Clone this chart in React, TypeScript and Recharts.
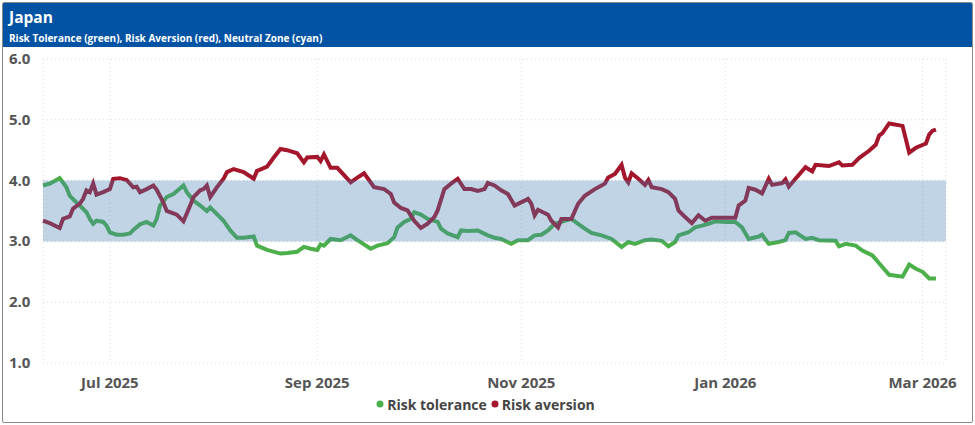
import {
  CartesianGrid,
  Legend,
  Line,
  LineChart,
  XAxis,
  YAxis,
} from "recharts";

// Risk tolerance (green)
const toleranceDates = [
  "2025-06-11", "2025-06-13", "2025-06-16", "2025-06-18", "2025-06-19", "2025-06-21", "2025-06-22",
  "2025-06-24", "2025-06-25", "2025-06-26", "2025-06-27", "2025-06-29", "2025-06-30", "2025-07-01",
  "2025-07-03", "2025-07-05", "2025-07-07", "2025-07-08", "2025-07-10", "2025-07-12", "2025-07-14",
  "2025-07-15", "2025-07-16", "2025-07-18", "2025-07-20", "2025-07-23", "2025-07-24", "2025-07-26",
  "2025-07-28", "2025-07-30", "2025-07-31", "2025-08-02", "2025-08-04", "2025-08-05", "2025-08-06",
  "2025-08-08", "2025-08-10", "2025-08-13", "2025-08-14", "2025-08-17", "2025-08-21", "2025-08-23",
  "2025-08-26", "2025-08-28", "2025-08-30", "2025-09-01", "2025-09-02", "2025-09-03", "2025-09-05",
  "2025-09-08", "2025-09-11", "2025-09-13", "2025-09-17", "2025-09-19", "2025-09-22", "2025-09-24",
  "2025-09-25", "2025-09-27", "2025-09-29", "2025-09-30", "2025-10-02", "2025-10-04", "2025-10-07",
  "2025-10-08", "2025-10-10", "2025-10-13", "2025-10-14", "2025-10-16", "2025-10-19", "2025-10-22",
  "2025-10-24", "2025-10-26", "2025-10-29", "2025-10-31", "2025-11-03", "2025-11-05", "2025-11-07",
  "2025-11-09", "2025-11-11", "2025-11-14", "2025-11-16", "2025-11-18", "2025-11-20", "2025-11-22",
  "2025-11-25", "2025-11-28", "2025-12-01", "2025-12-03", "2025-12-05", "2025-12-08", "2025-12-10",
  "2025-12-13", "2025-12-15", "2025-12-17", "2025-12-18", "2025-12-21", "2025-12-23", "2025-12-25",
  "2025-12-27", "2025-12-29", "2026-01-01", "2026-01-04", "2026-01-06", "2026-01-08", "2026-01-11",
  "2026-01-12", "2026-01-14", "2026-01-17", "2026-01-19", "2026-01-20", "2026-01-22", "2026-01-25",
  "2026-01-27", "2026-01-29", "2026-02-03", "2026-02-04", "2026-02-06", "2026-02-09", "2026-02-11",
  "2026-02-14", "2026-02-16", "2026-02-19", "2026-02-23", "2026-02-25", "2026-02-27", "2026-03-01",
  "2026-03-03", "2026-03-05",
];
const toleranceValues = [
  3.92, 3.95, 4.04, 3.89, 3.75, 3.64, 3.59,
  3.48, 3.37, 3.29, 3.34, 3.32, 3.26, 3.15,
  3.11, 3.11, 3.13, 3.19, 3.28, 3.32, 3.26,
  3.37, 3.59, 3.73, 3.78, 3.92, 3.81, 3.67,
  3.59, 3.5, 3.56, 3.45, 3.34, 3.26, 3.18,
  3.06, 3.06, 3.08, 2.93, 2.86, 2.8, 2.81,
  2.83, 2.91, 2.88, 2.86, 2.95, 2.93, 3.04,
  3.02, 3.1, 3.02, 2.88, 2.93, 2.97, 3.07,
  3.23, 3.32, 3.37, 3.48, 3.44, 3.37, 3.32,
  3.21, 3.13, 3.07, 3.18, 3.17, 3.18, 3.1,
  3.06, 3.04, 2.96, 3.02, 3.02, 3.1, 3.11,
  3.18, 3.29, 3.34, 3.37, 3.29, 3.21, 3.14,
  3.1, 3.04, 2.91, 2.99, 2.96, 3.02, 3.03,
  3.01, 2.92, 2.99, 3.1, 3.15, 3.23, 3.26,
  3.29, 3.33, 3.32, 3.32, 3.23, 3.04, 3.08,
  3.11, 2.96, 2.99, 3.02, 3.14, 3.15, 3.04,
  3.06, 3.02, 3.01, 2.92, 2.96, 2.93, 2.85,
  2.77, 2.64, 2.45, 2.42, 2.62, 2.55, 2.5,
  2.39, 2.39,
];

// Risk aversion (red)
const aversionDates = [
  "2025-06-11", "2025-06-13", "2025-06-16", "2025-06-17", "2025-06-19", "2025-06-20", "2025-06-22",
  "2025-06-23", "2025-06-24", "2025-06-25", "2025-06-26", "2025-06-27", "2025-06-29", "2025-07-01",
  "2025-07-02", "2025-07-04", "2025-07-06", "2025-07-08", "2025-07-09", "2025-07-10", "2025-07-12",
  "2025-07-14", "2025-07-15", "2025-07-17", "2025-07-18", "2025-07-21", "2025-07-23", "2025-07-25",
  "2025-07-26", "2025-07-28", "2025-07-29", "2025-07-30", "2025-07-31", "2025-08-02", "2025-08-04",
  "2025-08-05", "2025-08-07", "2025-08-10", "2025-08-13", "2025-08-14", "2025-08-17", "2025-08-19",
  "2025-08-21", "2025-08-23", "2025-08-26", "2025-08-28", "2025-08-29", "2025-09-01", "2025-09-02",
  "2025-09-03", "2025-09-05", "2025-09-07", "2025-09-11", "2025-09-13", "2025-09-15", "2025-09-18",
  "2025-09-21", "2025-09-23", "2025-09-24", "2025-09-26", "2025-09-28", "2025-09-30", "2025-10-02",
  "2025-10-04", "2025-10-06", "2025-10-07", "2025-10-09", "2025-10-11", "2025-10-13", "2025-10-15",
  "2025-10-17", "2025-10-19", "2025-10-21", "2025-10-22", "2025-10-24", "2025-10-26", "2025-10-28",
  "2025-10-30", "2025-11-02", "2025-11-03", "2025-11-04", "2025-11-05", "2025-11-06", "2025-11-09",
  "2025-11-10", "2025-11-12", "2025-11-13", "2025-11-16", "2025-11-18", "2025-11-20", "2025-11-23",
  "2025-11-25", "2025-11-26", "2025-11-27", "2025-11-29", "2025-12-01", "2025-12-02", "2025-12-03",
  "2025-12-04", "2025-12-06", "2025-12-08", "2025-12-09", "2025-12-10", "2025-12-13", "2025-12-15",
  "2025-12-17", "2025-12-18", "2025-12-20", "2025-12-22", "2025-12-24", "2025-12-26", "2025-12-28",
  "2025-12-31", "2026-01-04", "2026-01-05", "2026-01-07", "2026-01-08", "2026-01-10", "2026-01-12",
  "2026-01-14", "2026-01-15", "2026-01-18", "2026-01-19", "2026-01-20", "2026-01-22", "2026-01-25",
  "2026-01-27", "2026-01-28", "2026-02-01", "2026-02-04", "2026-02-05", "2026-02-08", "2026-02-10",
  "2026-02-13", "2026-02-15", "2026-02-16", "2026-02-17", "2026-02-19", "2026-02-23", "2026-02-25",
  "2026-02-27", "2026-03-02", "2026-03-03", "2026-03-04", "2026-03-05",
];
const aversionValues = [
  3.34, 3.3, 3.22, 3.37, 3.41, 3.54, 3.62,
  3.7, 3.84, 3.81, 3.95, 3.77, 3.81, 3.86,
  4.03, 4.04, 4.01, 3.89, 3.9, 3.81, 3.86,
  3.92, 3.85, 3.64, 3.5, 3.44, 3.33, 3.59,
  3.73, 3.84, 3.86, 3.92, 3.73, 3.89, 4.03,
  4.14, 4.19, 4.14, 4.03, 4.16, 4.23, 4.38,
  4.52, 4.5, 4.45, 4.3, 4.38, 4.39, 4.32,
  4.43, 4.21, 4.21, 3.97, 4.05, 4.12, 3.89,
  3.86, 3.78, 3.64, 3.55, 3.51, 3.34, 3.22,
  3.29, 3.4, 3.51, 3.86, 3.95, 4.03, 3.86,
  3.86, 3.83, 3.86, 3.96, 3.92, 3.84, 3.78,
  3.59, 3.67, 3.7, 3.62, 3.43, 3.52, 3.44,
  3.34, 3.23, 3.37, 3.37, 3.62, 3.75, 3.86,
  3.92, 3.95, 4.05, 4.11, 4.26, 4.05, 3.97,
  4.12, 4.03, 3.93, 4.01, 3.89, 3.86, 3.81,
  3.7, 3.51, 3.4, 3.3, 3.43, 3.34, 3.39,
  3.39, 3.39, 3.59, 3.67, 3.88, 3.85, 3.79,
  4.03, 3.93, 3.96, 4.02, 3.9, 4.03, 4.22,
  4.15, 4.26, 4.24, 4.3, 4.25, 4.26, 4.37,
  4.49, 4.59, 4.74, 4.78, 4.94, 4.9, 4.46,
  4.54, 4.61, 4.76, 4.82, 4.84,
];

// Neutral zone (cyan band 3.0 - 4.0), spanning the whole period
const neutralDates = ["2025-06-11", "2026-03-08"];
const neutralLow = 3;
const neutralHigh = 4;

const monthTicks = ["2025-07-01", "2025-09-01", "2025-11-01", "2026-01-01", "2026-03-01"];
const yTicks = [1, 2, 3, 4, 5, 6];
const xRange = ["2025-06-11", "2026-03-08"];
const yRange = [1, 6];

const MONTHS = ["Jan", "Feb", "Mar", "Apr", "May", "Jun", "Jul", "Aug", "Sep", "Oct", "Nov", "Dec"];
const ts = (d: string) => Date.parse(d + "T00:00:00Z");

const toleranceData = toleranceDates.map((d, i) => ({ t: ts(d), v: toleranceValues[i] }));
const aversionData = aversionDates.map((d, i) => ({ t: ts(d), v: aversionValues[i] }));
// drawn as a wide translucent stroke centred in the zone, so it sits on top of the lines
const neutralData = neutralDates.map((d) => ({ t: ts(d), mid: (neutralLow + neutralHigh) / 2 }));

const CHART_H = 375;
const MARGIN = { top: 12, right: 26, left: 0, bottom: 0 };
const XAXIS_H = 30;
const LEGEND_H = 29;
const plotH = CHART_H - MARGIN.top - MARGIN.bottom - XAXIS_H - LEGEND_H;
const bandWidth = (plotH * (neutralHigh - neutralLow)) / (yRange[1] - yRange[0]);

const GREEN = "#4cb04a";
const RED = "#a3162c";
const FONT = "'Open Sans', 'Liberation Sans', sans-serif";

function fmtMonth(t: number) {
  const d = new Date(t);
  return `${MONTHS[d.getUTCMonth()]} ${d.getUTCFullYear()}`;
}

function YTick({ y, payload }: any) {
  return (
    <text x={6} y={y} dy={5} textAnchor="start" fill="#555" fontSize={15} fontWeight={700} fontFamily={FONT}>
      {Number(payload.value).toFixed(1)}
    </text>
  );
}

function LegendContent() {
  const item = (color: string, label: string) => (
    <span style={{ display: "inline-flex", alignItems: "center", marginRight: 4 }}>
      <svg width={8} height={8} style={{ marginRight: 3 }}>
        <circle cx={4} cy={4} r={3.5} fill={color} />
      </svg>
      {label}
    </span>
  );
  return (
    <div style={{ textAlign: "center", fontFamily: FONT, fontSize: 14, fontWeight: 700, color: "#444" }}>
      {item(GREEN, "Risk tolerance")}
      {item(RED, "Risk aversion")}
    </div>
  );
}

export default function App() {
  return (
    <div
      style={{
        position: "fixed",
        left: 2,
        top: 2,
        width: 969,
        height: 419,
        border: "1px solid #8a8a8a",
        borderRadius: 2,
        background: "#fff",
        overflow: "hidden",
        fontFamily: FONT,
      }}
    >
      <div style={{ background: "#0353a4", height: 44, color: "#fff", padding: "0 6px", boxSizing: "border-box" }}>
        <div style={{ fontSize: 15.5, fontWeight: 700, paddingTop: 4, lineHeight: "20px" }}>Japan</div>
        <div style={{ fontSize: 10, fontWeight: 700, paddingTop: 5, lineHeight: "13px" }}>
          Risk Tolerance (green), Risk Aversion (red), Neutral Zone (cyan)
        </div>
      </div>
      <LineChart width={969} height={CHART_H} margin={MARGIN}>
        <CartesianGrid stroke="#dcdcdc" strokeDasharray="1 3" />
        <XAxis
          dataKey="t"
          type="number"
          scale="time"
          domain={[ts(xRange[0]), ts(xRange[1])]}
          ticks={monthTicks.map(ts)}
          tickFormatter={fmtMonth}
          axisLine={false}
          tickLine={false}
          tickMargin={8}
          height={XAXIS_H}
          tick={{ fill: "#555", fontSize: 15, fontWeight: 700, fontFamily: FONT }}
          allowDuplicatedCategory={false}
        />
        <YAxis
          type="number"
          domain={yRange}
          ticks={yTicks}
          width={40}
          axisLine={false}
          tickLine={false}
          tick={<YTick />}
        />
        <Line
          data={toleranceData}
          dataKey="v"
          name="Risk tolerance"
          stroke={GREEN}
          strokeWidth={4}
          dot={false}
          isAnimationActive={false}
        />
        <Line
          data={aversionData}
          dataKey="v"
          name="Risk aversion"
          stroke={RED}
          strokeWidth={4}
          dot={false}
          isAnimationActive={false}
        />
        <Line
          data={neutralData}
          dataKey="mid"
          name="Neutral zone"
          stroke="rgb(70,130,180)"
          strokeOpacity={0.34}
          strokeWidth={bandWidth}
          strokeLinecap="butt"
          dot={false}
          activeDot={false}
          legendType="none"
          isAnimationActive={false}
        />
        <Legend
          verticalAlign="bottom"
          height={LEGEND_H}
          wrapperStyle={{ left: 0, width: 969 }}
          content={<LegendContent />}
        />
      </LineChart>
    </div>
  );
}
